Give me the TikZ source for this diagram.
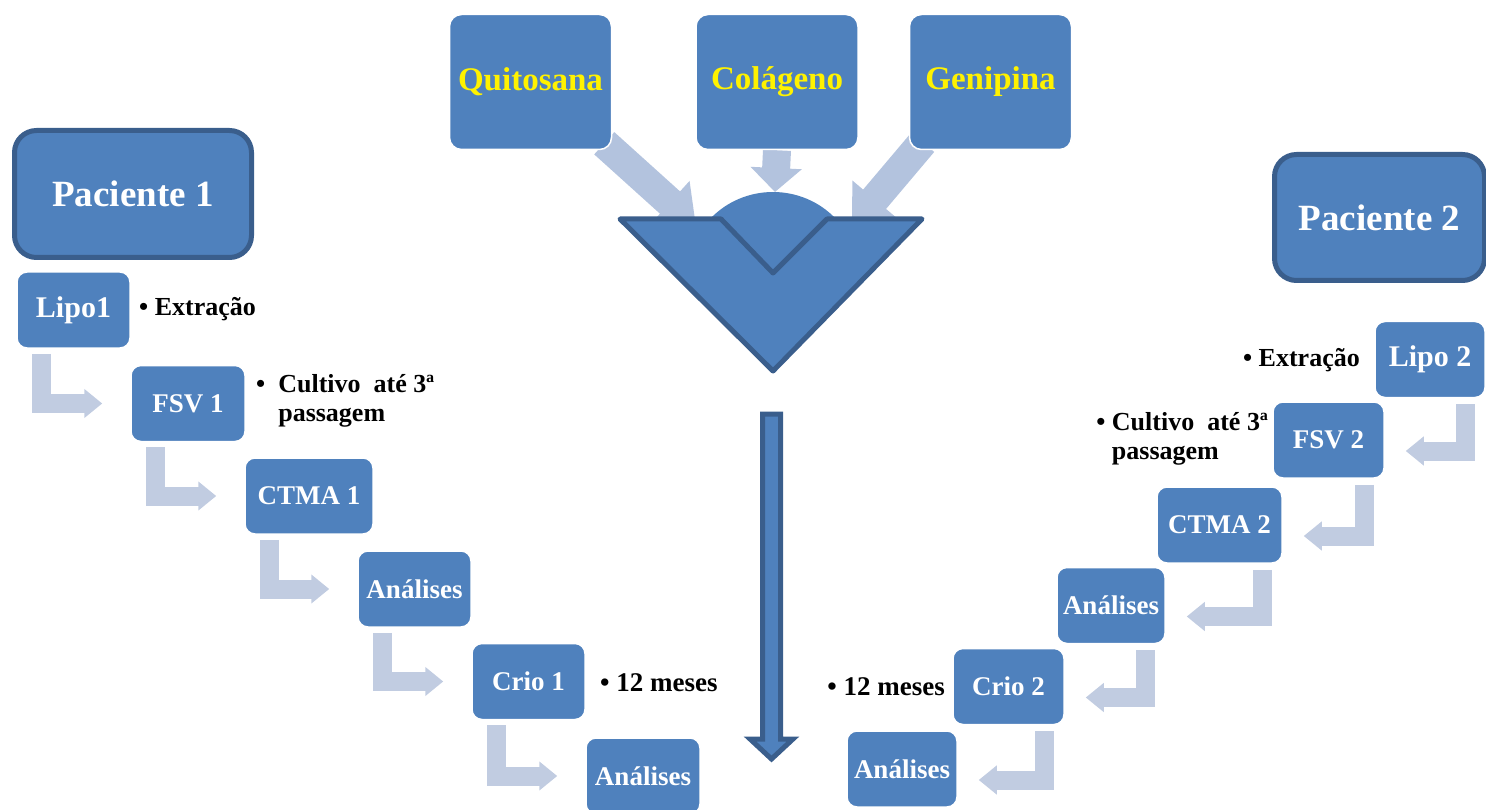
\documentclass[tikz,border=0pt]{standalone}
\usepackage{fontspec}
\setmainfont{Liberation Serif}
\usetikzlibrary{arrows.meta,backgrounds}

\definecolor{boxblue}{RGB}{79,129,189}
\definecolor{darkblue}{RGB}{58,94,140}
\definecolor{flowgray}{RGB}{179,195,222}
\definecolor{stepgray}{RGB}{193,204,225}

\tikzset{
	patient/.style={draw=darkblue,line width=5pt,fill=boxblue,rounded corners=22pt,
		text=white,font=\bfseries\fontsize{37}{40}\selectfont,inner sep=0pt},
	compbox/.style={draw=white,line width=1.5pt,fill=boxblue,rounded corners=12pt,
		text=yellow,font=\bfseries\fontsize{33}{36}\selectfont,
		minimum width=162pt,minimum height=135pt,inner sep=0pt},
	stepbox/.style={draw=white,line width=1.5pt,fill=boxblue,rounded corners=10pt,
		text=white,font=\bfseries\fontsize{27}{30}\selectfont,
		minimum height=76pt,inner sep=0pt},
	note/.style={text=black,font=\bfseries\fontsize{26}{29}\selectfont,inner sep=0pt},
	bentarr/.style={draw=stepgray,line width=19pt,line join=miter,
		-{Triangle[width=28pt,length=18pt]}},
	fatarr/.style={draw=flowgray,line width=30pt,
		-{Triangle[width=56pt,length=35pt]}},
	funnel/.style={fill=boxblue,draw=darkblue,line width=5pt,line join=round},
}

\begin{document}
\begin{tikzpicture}[x=1pt,y=-1pt]
	\useasboundingbox (0,0) rectangle (1486,810);

	% components
	\node[compbox] (quit) at (530.5,82) {Quitosana};
	\node[compbox] (col) at (777,82) {Colágeno};
	\node[compbox] (gen) at (990.5,82) {Genipina};

	% arrows into the mixture
	\coordinate (mixL) at (696,226);
	\coordinate (mixC) at (775,192);
	\coordinate (mixR) at (852,226);
	\begin{scope}[on background layer]
		\draw[fatarr] ([shift={(-8,-7)}]quit.south east) -- (mixL);
		\draw[fatarr,line width=28pt,-{Triangle[width=50pt,length=24pt]}] (col.south) -- (mixC);
		\draw[fatarr] ([shift={(14,-8)}]gen.south west) -- (mixR);
	\end{scope}

	% dome and funnel
	\fill[boxblue] (721,219) -- (710,219) .. controls (744,183) and (802,183) .. (836,219)
		-- (827,219) -- (773,273) -- cycle;
	\draw[funnel] (620,219) -- (721,219) -- (773,273) -- (827,219) -- (922,219) -- (773,371) -- cycle;

	% long arrow down
	\coordinate (flow) at (771.5,414);
	\draw[funnel,line join=miter] (flow) ++(-9,0) -- ++(18,0) -- ++(0,325) -- ++(12.5,0)
		-- (771.5,759) -- (750,739) -- ++(12.5,0) -- cycle;

	% patients
	\node[patient,minimum width=237pt,minimum height=127pt] (pac1) at (133,194) {Paciente 1};
	\node[patient,minimum width=210pt,minimum height=126pt] (pac2) at (1379.5,217.5) {Paciente 2};

	% steps, patient 1
	\node[stepbox,minimum width=113pt,font=\bfseries\fontsize{30}{32}\selectfont] (lipo1) at (73.5,310) {Lipo1};
	\node[stepbox,minimum width=114pt] (fsv1) at (188,403.5) {FSV 1};
	\node[stepbox,minimum width=128pt] (ctma1) at (309,496) {CTMA 1};
	\node[stepbox,minimum width=113pt] (anaA1) at (414.5,589) {Análises};
	\node[stepbox,minimum width=113pt] (crio1) at (528.5,681.5) {Crio 1};
	\node[stepbox,minimum width=114pt] (anaB1) at (643,776) {Análises};

	% steps, patient 2
	\node[stepbox,minimum width=110pt,font=\bfseries\fontsize{30}{32}\selectfont] (lipo2) at (1430,359.5) {Lipo 2};
	\node[stepbox,minimum width=111pt] (fsv2) at (1328.5,440) {FSV 2};
	\node[stepbox,minimum width=125pt] (ctma2) at (1219.5,525) {CTMA 2};
	\node[stepbox,minimum width=108pt] (anaA2) at (1111,605.5) {Análises};
	\node[stepbox,minimum width=111pt] (crio2) at (1008.5,686.5) {Crio 2};
	\node[stepbox,minimum width=110pt] (anaB2) at (902,769) {Análises};

	% bent arrows
	\foreach \a/\b in {lipo1/fsv1,fsv1/ctma1,ctma1/anaA1,anaA1/crio1,crio1/anaB1}
		\draw[bentarr] ([xshift=25pt,yshift=-5pt]\a.south west) |- ([xshift=-28pt]\b.west);
	\foreach \a/\b in {lipo2/fsv2,fsv2/ctma2,ctma2/anaA2,anaA2/crio2,crio2/anaB2}
		\draw[bentarr] ([xshift=-20pt,yshift=-6pt]\a.south east) |- ([xshift=21pt,yshift=-11pt]\b.east);

	% notes
	\node[note,anchor=west] (ext1) at (139,309) {•\ Extração};
	\node[note,anchor=west] (cult1) at (256,401.5)
		{\begin{tabular}{@{}l@{\ \ }l@{}}•&Cultivo\ \ até 3ª\\&passagem\end{tabular}};
	\node[note,anchor=west,font=\bfseries\fontsize{27}{29}\selectfont] (mes1) at (600,683) {• 12 meses};
	\node[note,anchor=east] (ext2) at (1360,360) {•\ Extração};
	\node[note,anchor=east] (cult2) at (1268,439)
		{\begin{tabular}{@{}l@{\ }l@{}}•&Cultivo\ \ até 3ª\\&passagem\end{tabular}};
	\node[note,anchor=east,font=\bfseries\fontsize{27}{29}\selectfont] (mes2) at (945,687) {• 12 meses};

\end{tikzpicture}
\end{document}
